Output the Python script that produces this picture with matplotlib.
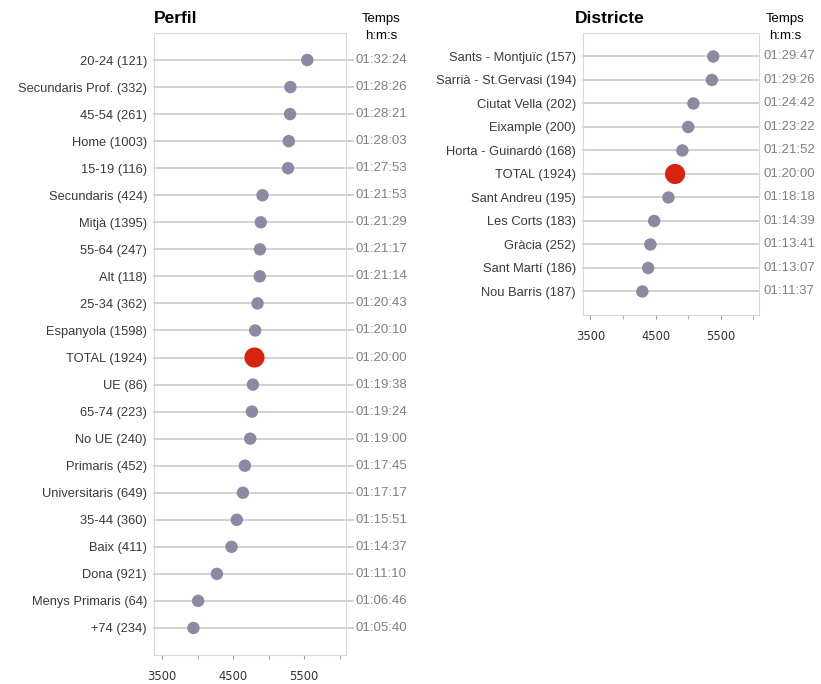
import matplotlib.pyplot as plt
from matplotlib.ticker import MultipleLocator

plt.rcParams['font.family'] = ['Liberation Sans', 'DejaVu Sans']

# Perfil: category labels and times in seconds
perfil_labels = ['20-24 (121)', 'Secundaris Prof. (332)', '45-54 (261)', 'Home (1003)',
                 '15-19 (116)', 'Secundaris (424)', 'Mitjà (1395)', '55-64 (247)',
                 'Alt (118)', '25-34 (362)', 'Espanyola (1598)', 'TOTAL (1924)',
                 'UE (86)', '65-74 (223)', 'No UE (240)', 'Primaris (452)',
                 'Universitaris (649)', '35-44 (360)', 'Baix (411)', 'Dona (921)',
                 'Menys Primaris (64)', '+74 (234)']
perfil_secs = [5544, 5306, 5301, 5283, 5273, 4913, 4889, 4877, 4874, 4843, 4810,
               4800, 4778, 4764, 4740, 4665, 4637, 4551, 4477, 4270, 4006, 3940]

# Districte
dist_labels = ['Sants - Montjuïc (157)', 'Sarrià - St.Gervasi (194)', 'Ciutat Vella (202)',
               'Eixample (200)', 'Horta - Guinardó (168)', 'TOTAL (1924)',
               'Sant Andreu (195)', 'Les Corts (183)', 'Gràcia (252)',
               'Sant Martí (186)', 'Nou Barris (187)']
dist_secs = [5387, 5366, 5082, 5002, 4912, 4800, 4698, 4479, 4421, 4387, 4297]

x_lim = (3385, 6090)
dot_col = '#8c8aa3'
total_col = '#d8230f'
line_col = '#cfcfcf'


def hms(s):
    return '%02d:%02d:%02d' % (s // 3600, (s % 3600) // 60, s % 60)


def dot_panel(ax, labels, secs, title, title_x, line_end, time_x, temps_dx):
    n = len(labels)
    ys = list(range(n))[::-1]
    ax.set_xlim(*x_lim)
    ax.set_ylim(-1, n)
    for y, lab, s in zip(ys, labels, secs):
        ax.axhline(y, xmin=0, xmax=line_end, color=line_col, lw=1.3, zorder=1, clip_on=False)
        if lab.startswith('TOTAL'):
            ax.scatter(s, y, s=210, color=total_col, zorder=3, edgecolors='none')
        else:
            ax.scatter(s, y, s=80, color=dot_col, zorder=3, edgecolors='none')
        ax.text(time_x, y, hms(s), transform=ax.get_yaxis_transform(),
                ha='left', va='center', fontsize=9.5, color='#808080')
    ax.set_yticks(ys)
    ax.set_yticklabels(labels, fontsize=9.3, color='#3a3a3a')
    ax.tick_params(axis='y', length=0, pad=5)
    ax.xaxis.set_minor_locator(MultipleLocator(500))
    ax.set_xticks([3500, 4500, 5500])
    ax.tick_params(axis='x', which='both', length=3, color='#999999',
                   labelsize=8.3, labelcolor='#333333', pad=8)
    for lbl in ax.get_xticklabels():
        lbl.set_family('DejaVu Sans')
    for sp in ax.spines.values():
        sp.set_color('#d8d8d8')
        sp.set_linewidth(0.8)
    ax.set_title(title, x=title_x, ha='left', fontsize=12.5, fontweight='bold', pad=7)
    ax.annotate('Temps\nh:m:s', xy=(1, 1), xycoords='axes fraction',
                xytext=(temps_dx, 4), textcoords='offset points',
                ha='center', va='center', fontsize=9.5, linespacing=1.6)


fig = plt.figure(figsize=(8.21, 6.84), dpi=100)
ax1 = fig.add_axes([0.1876, 0.0424, 0.2339, 0.9094])
ax2 = fig.add_axes([0.7101, 0.5395, 0.2144, 0.4123])

dot_panel(ax1, perfil_labels, perfil_secs, 'Perfil', 0.0, 1.036, 1.047, 25)
dot_panel(ax2, dist_labels, dist_secs, 'Districte', -0.045, 1.0, 1.023, 19)

fig.savefig('out.png', dpi=100)
